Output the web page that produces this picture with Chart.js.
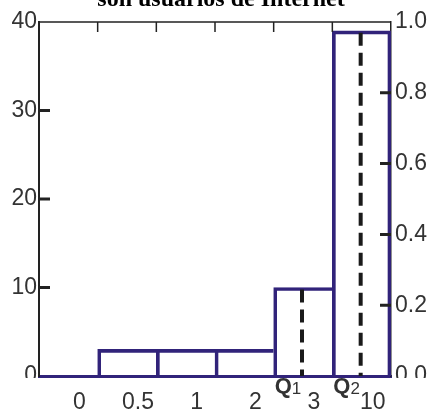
<!DOCTYPE html>
<html lang="es">
<head>
    <meta charset="utf-8">
    <title>Usuarios de Internet</title>
    <script src="https://cdn.jsdelivr.net/npm/chart.js"></script>
    <style>
        body { margin: 0; background: #fff; }
        #wrap { width: 431px; height: 412px; }
    </style>
</head>
<body>
    <div id="wrap"><canvas id="histChart" width="431" height="412"></canvas></div>

    <script>
        // datos del histograma
        const bins = ['0', '0.5', '1', '2', '3', '10'];
        const counts = [0, 3, 3, 3, 10, 39];
        const leftTicks = [0, 10, 20, 30, 40];
        const rightTicks = [0, 0.2, 0.4, 0.6, 0.8, 1.0];
        const quartileNames = ['1', '2'];
        const quartileBins = [4, 5];
        const titleText = 'son usuarios de Internet';

        const purple = '#31237a';
        const ink = '#222';
        const sans = '"Liberation Sans", Arial, sans-serif';

        const extras = {
            id: 'extras',
            afterDatasetsDraw(chart) {
                const ctx = chart.ctx;
                const x = chart.scales.x;
                const y = chart.scales.y;
                const y2 = chart.scales.y2;
                const area = chart.chartArea;
                ctx.save();

                // marco superior con marcas hacia dentro
                ctx.strokeStyle = ink;
                ctx.lineWidth = 1.5;
                ctx.beginPath();
                ctx.moveTo(area.left, area.top);
                ctx.lineTo(area.right, area.top);
                for (let i = 1; i < bins.length; i++) {
                    const bx = (x.getPixelForValue(i - 1) + x.getPixelForValue(i)) / 2;
                    ctx.moveTo(bx, area.top);
                    ctx.lineTo(bx, area.top + 10);
                }
                ctx.stroke();

                // marcas de los ejes verticales
                ctx.lineWidth = 3;
                ctx.beginPath();
                leftTicks.slice(1, -1).forEach(v => {
                    const py = y.getPixelForValue(v);
                    ctx.moveTo(area.left, py);
                    ctx.lineTo(area.left + 11, py);
                });
                rightTicks.slice(1, -1).forEach(v => {
                    const py = y2.getPixelForValue(v);
                    ctx.moveTo(area.right, py);
                    ctx.lineTo(area.right - 11, py);
                });
                ctx.stroke();

                // cuartiles
                ctx.strokeStyle = '#1a1a1a';
                ctx.lineWidth = 4;
                ctx.setLineDash([13, 7]);
                quartileBins.forEach(b => {
                    const qx = x.getPixelForValue(b) - 1;
                    ctx.beginPath();
                    ctx.moveTo(qx, y.getPixelForValue(counts[b]) + 2);
                    ctx.lineTo(qx, y.getPixelForValue(0));
                    ctx.stroke();
                });
                ctx.setLineDash([]);

                ctx.fillStyle = '#333';
                ctx.textBaseline = 'alphabetic';
                ctx.textAlign = 'left';
                quartileBins.forEach((b, i) => {
                    const left = (x.getPixelForValue(b - 1) + x.getPixelForValue(b)) / 2;
                    const qx = left + 1;
                    ctx.font = 'bold 22px ' + sans;
                    ctx.fillText('Q', qx, 393);
                    const w = ctx.measureText('Q').width;
                    ctx.font = '17px ' + sans;
                    ctx.fillText(quartileNames[i], qx + w, 394);
                });

                // etiquetas "0" recortadas como en el original
                ctx.fillStyle = '#fff';
                ctx.fillRect(0, area.bottom + 2, area.left - 1, 12);
                ctx.fillRect(area.right + 2, area.bottom + 2, chart.width - area.right, 12);

                // titulo (cortado arriba)
                ctx.fillStyle = '#000';
                ctx.textAlign = 'center';
                ctx.font = 'bold 24px "Liberation Serif", "Times New Roman", serif';
                ctx.fillText(titleText, (area.left + area.right) / 2 + 6, 6);
                ctx.restore();
            }
        };

        new Chart(document.getElementById('histChart'), {
            type: 'bar',
            data: {
                labels: bins,
                datasets: [{
                    data: counts,
                    backgroundColor: 'rgba(255,255,255,0)',
                    borderColor: purple,
                    borderWidth: (c) => ({ left: 3, top: 3, right: c.dataIndex === bins.length - 1 ? 3 : 0, bottom: 0 }),
                    borderSkipped: 'start',
                    barPercentage: 1,
                    categoryPercentage: 1
                }]
            },
            options: {
                responsive: false,
                devicePixelRatio: 1,
                animation: false,
                layout: { padding: { top: 22, left: 0, right: 0, bottom: 0 } },
                plugins: {
                    legend: { display: false },
                    tooltip: { enabled: false },
                    title: { display: false }
                },
                scales: {
                    x: {
                        grid: { display: false, drawTicks: false },
                        border: { color: purple, width: 3 },
                        ticks: {
                            color: '#333',
                            font: { family: sans, size: 23 },
                            padding: 13,
                            labelOffset: 11,
                            maxRotation: 0,
                            autoSkip: false
                        },
                        afterFit: (s) => { s.height = 36; }
                    },
                    y: {
                        position: 'left',
                        min: 0,
                        max: 40,
                        grid: { display: false, drawTicks: false },
                        border: { color: ink, width: 2 },
                        ticks: {
                            stepSize: 10,
                            color: '#333',
                            padding: 2,
                            font: { family: sans, size: 23 }
                        },
                        afterFit: (s) => { s.width = 39; }
                    },
                    y2: {
                        position: 'right',
                        min: 0,
                        max: 1,
                        grid: { display: false, drawTicks: false },
                        border: { color: ink, width: 1.5 },
                        ticks: {
                            stepSize: 0.2,
                            color: '#333',
                            padding: 4,
                            font: { family: sans, size: 23 },
                            callback: (v) => v.toFixed(1)
                        },
                        afterFit: (s) => { s.width = 40; }
                    }
                }
            },
            plugins: [extras]
        });
    </script>
</body>
</html>
